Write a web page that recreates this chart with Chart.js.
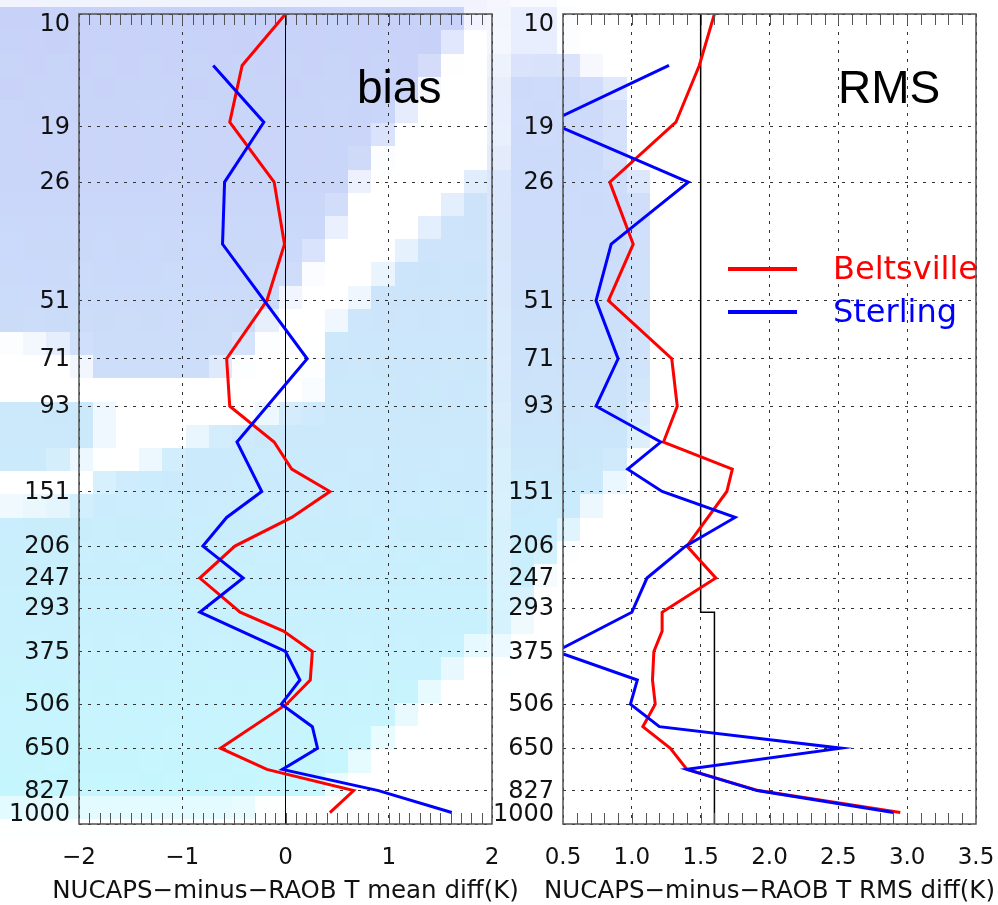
<!DOCTYPE html>
<html><head><meta charset="utf-8">
<script src="https://cdn.jsdelivr.net/npm/chart.js@4.4.1/dist/chart.umd.min.js"></script>
<style>
html,body{margin:0;padding:0;background:#fff;width:998px;height:905px;overflow:hidden;position:relative;}
#bg{position:absolute;left:0;top:-16px;width:998px;height:928px;image-rendering:pixelated;}
#c1{position:absolute;left:0;top:0;}
#c2{position:absolute;left:480px;top:0;}
</style></head><body>
<canvas id="bg" width="43" height="40"></canvas>
<canvas id="c1" width="540" height="905"></canvas>
<canvas id="c2" width="518" height="905"></canvas>
<script>
// ---- data ----
const levels = [10, 13.4, 18.5, 26, 37, 51, 71, 93, 114, 133, 151, 175, 206, 247, 300, 334, 375, 441, 506, 575, 650, 733, 827, 937];
const beltsvilleBias = [0.0, -0.42, -0.54, -0.11, -0.01, -0.18, -0.57, -0.54, -0.11, 0.06, 0.43, 0.06, -0.49, -0.83, -0.44, -0.02, 0.26, 0.24, 0.01, null, -0.63, -0.18, 0.66, 0.43];
const sterlingBias   = [null, -0.70, -0.21, -0.59, -0.61, null, 0.21, null, -0.47, null, -0.23, -0.57, -0.80, -0.41, -0.83, null, 0.0, 0.14, -0.04, 0.26, 0.31, -0.03, 0.90, 1.61];
const beltsvilleRms  = [1.60, 1.49, 1.32, 0.84, 1.01, 0.83, 1.29, 1.33, 1.23, 1.73, 1.69, null, 1.40, 1.61, 1.22, 1.22, 1.16, 1.15, 1.17, 1.08, 1.28, 1.40, 1.92, 2.95];
const sterlingRms    = [null, 1.27, 0.40, 1.41, 0.85, 0.74, 0.90, 0.74, 1.21, 0.97, 1.22, 1.75, 1.39, 1.11, 1.00, null, 0.45, 1.04, 0.99, 1.20, 2.52, 1.40, 1.91, 2.90];
const zeroLevels = [10, 1000];
const zeroBias = [0, 0];
const reqLevels = [10, 300, 300, 1000];
const reqRms = [1.5, 1.5, 1.6, 1.6];
const pressureTicks = [10, 19, 26, 51, 71, 93, 151, 206, 247, 293, 375, 506, 650, 827, 1000];
const biasTicks = [-2, -1, 0, 1, 2];
const rmsTicks = [0.5, 1.0, 1.5, 2.0, 2.5, 3.0, 3.5];

// ---- decorative background (pixelated blue field behind the panels) ----
(function drawBackground(){
  const cv = document.getElementById('bg');
  const ctx = cv.getContext('2d');
  ctx.fillStyle = '#ffffff'; ctx.fillRect(0,0,cv.width,cv.height);
  ctx.setTransform(cv.width/998, 0, 0, cv.height/928, 0, 16*cv.height/928);
  function poly(pts, fill){ ctx.beginPath(); pts.forEach(([x,y],i)=> i?ctx.lineTo(x,y):ctx.moveTo(x,y)); ctx.closePath(); ctx.fillStyle=fill; ctx.fill(); }
  function vgrad(stops){ const g=ctx.createLinearGradient(0,0,0,905); stops.forEach(([o,c])=>g.addColorStop(o,c)); return g; }
  const lav = vgrad([[0,'#c8d2f9'],[0.2,'#cad6f9'],[0.4,'#ccdefa'],[1,'#ccdefa']]);
  poly([[0,0],[500,0],[500,10],[470,14],[455,40],[440,60],[415,100],[395,125],[370,160],[350,190],[335,230],[310,265],[290,290],[265,320],[255,345],[225,365],[210,378],[95,378],[75,350],[40,335],[0,330]], lav);
  const low = vgrad([[0,'#cddcfa'],[0.2,'#cde2fa'],[0.45,'#cce8fb'],[0.65,'#c9f0fd'],[0.9,'#c6f7fe'],[1,'#c6f7fe']]);
  poly([[500,160],[485,172],[463,195],[440,218],[417,240],[395,265],[370,290],[347,312],[325,335],[322,400],[280,405],[255,425],[207,430],[185,448],[163,452],[140,470],[95,478],[90,497],[60,505],[0,510],[0,800],[320,797],[347,773],[370,750],[393,727],[417,705],[440,682],[463,658],[480,640],[500,635]], low);
  poly([[0,403],[100,403],[100,450],[50,470],[0,472]], low);
  poly([[0,797],[250,797],[250,820],[0,820]], '#e2fafe');
  // right panel
  poly([[500,0],[560,0],[560,57],[500,57]], '#e8eefd');
  const rg = vgrad([[0,'#cfd9fa'],[0.25,'#ccdcfa'],[0.45,'#cce4fa'],[0.6,'#c9eefc'],[1,'#c9eefc']]);
  poly([[500,57],[578,57],[600,80],[623,80],[623,173],[648,173],[648,380],[640,450],[625,452],[620,475],[600,497],[578,520],[560,545],[540,570],[520,615],[500,660]], rg);
})();

function pts(lv, vals){ return lv.map((p,i)=>({x: vals[i], y: p})); }
const FONT = '"DejaVu Sans", sans-serif';

const decoPlugin = {
  id: 'deco',
  afterDraw(chart, args, opts) {
    const {ctx, chartArea: a} = chart;
    const xs = chart.scales.x, ys = chart.scales.y;
    ctx.save();
    // minor ticks top & bottom, every 0.1
    ctx.strokeStyle = '#555'; ctx.lineWidth = 1;
    const n = Math.round((xs.max - xs.min) / 0.1);
    ctx.beginPath();
    for (let i = 1; i < n; i++) {
      const v = xs.min + i * 0.1;
      const px = Math.round(xs.getPixelForValue(v)) + 0.5;
      ctx.moveTo(px, a.top); ctx.lineTo(px, a.top + 11);
      ctx.moveTo(px, a.bottom); ctx.lineTo(px, a.bottom - 11);
    }
    ctx.stroke();
    // frame
    ctx.lineWidth = 1.5; ctx.strokeStyle = '#505050';
    ctx.strokeRect(a.left, a.top, a.right - a.left, a.bottom - a.top);
    // y tick labels
    ctx.font = '24px ' + FONT; ctx.fillStyle = '#111'; ctx.textAlign = 'right'; ctx.textBaseline = 'middle';
    pressureTicks.forEach((p, i) => {
      let y = ys.getPixelForValue(p);
      if (i === 0) y += 10;
      if (i === pressureTicks.length - 1) y -= 10;
      ctx.fillText(String(p), a.left - 9, y + 1);
    });
    // x-axis title
    ctx.font = '24.5px ' + FONT; ctx.textAlign = 'center'; ctx.textBaseline = 'alphabetic'; ctx.fillStyle = '#111';
    ctx.fillText(opts.xTitle, (a.left + a.right) / 2, a.bottom + 74);
    // panel label
    ctx.font = '46px "Liberation Sans", Arial, sans-serif'; ctx.textAlign = 'left'; ctx.fillStyle = '#000';
    ctx.fillText(opts.label, a.left + opts.labelDx, a.top + 89);
    // legend
    if (opts.legend) {
      let k = 0;
      chart.data.datasets.forEach(ds => {
        if (!ds.label) return;
        const y = 269 + k * 43;
        ctx.strokeStyle = ds.borderColor; ctx.lineWidth = 4;
        ctx.beginPath(); ctx.moveTo(a.left + 165, y); ctx.lineTo(a.left + 234, y); ctx.stroke();
        ctx.font = '32px ' + FONT; ctx.fillStyle = ds.borderColor;
        ctx.fillText(ds.label, a.left + 270, y + 10);
        k++;
      });
    }
    ctx.restore();
  }
};

function makeOptions(xmin, xmax, xticks, fmt, padRight, yWidth, deco) {
  return {
    responsive: false,
    animation: false,
    events: [],
    layout: { padding: { top: 14, right: padRight, left: 0, bottom: 0 } },
    plugins: { legend: { display: false }, tooltip: { enabled: false }, deco: deco },
    elements: { point: { radius: 0 }, line: { tension: 0 } },
    scales: {
      x: {
        type: 'linear', min: xmin, max: xmax,
        afterBuildTicks: s => { s.ticks = xticks.map(v => ({ value: v })); },
        afterFit: s => { s.height = 81; },
        ticks: { font: { family: FONT, size: 23 }, color: '#111', padding: 0, maxRotation: 0, autoSkip: false, callback: fmt },
        grid: { color: '#333', lineWidth: 1, drawTicks: true, tickLength: 20, tickColor: 'rgba(0,0,0,0)' },
        border: { display: false, dash: [3, 6] },
        title: { display: false }
      },
      y: {
        type: 'logarithmic', min: 10, max: 1000, reverse: true,
        afterBuildTicks: s => { s.ticks = pressureTicks.map(v => ({ value: v })); },
        afterFit: s => { s.width = yWidth; },
        ticks: { display: false },
        grid: { color: '#333', lineWidth: 1, drawTicks: false },
        border: { display: false, dash: [3, 6] }
      }
    }
  };
}

const minusFmt = v => (v < 0 ? '\u2212' + Math.abs(v) : String(v));
const oneDec = v => Number(v).toFixed(1);

new Chart(document.getElementById('c1'), {
  type: 'line',
  data: { datasets: [
    { data: pts(levels, sterlingBias), borderColor: '#0000ff', borderWidth: 3, spanGaps: true, clip: 0, order: 1 },
    { data: pts(levels, beltsvilleBias), borderColor: '#ff0000', borderWidth: 3, spanGaps: true, clip: 0, order: 2 },
    { data: pts(zeroLevels, zeroBias), borderColor: '#000000', borderWidth: 1, order: 3 }
  ]},
  options: makeOptions(-2, 2, biasTicks, minusFmt, 48, 79,
    { label: 'bias', labelDx: 278, legend: false, xTitle: 'NUCAPS\u2212minus\u2212RAOB T mean diff(K)' }),
  plugins: [decoPlugin]
});

new Chart(document.getElementById('c2'), {
  type: 'line',
  data: { datasets: [
    { label: 'Beltsville', data: pts(levels, beltsvilleRms), borderColor: '#ff0000', borderWidth: 3, spanGaps: true, clip: 0, order: 2 },
    { label: 'Sterling', data: pts(levels, sterlingRms), borderColor: '#0000ff', borderWidth: 3, spanGaps: true, clip: 0, order: 1 },
    { data: pts(reqLevels, reqRms), borderColor: '#000000', borderWidth: 1.5, order: 3 }
  ]},
  options: makeOptions(0.5, 3.5, rmsTicks, oneDec, 22, 83,
    { label: 'RMS', labelDx: 275, legend: true, xTitle: 'NUCAPS\u2212minus\u2212RAOB T RMS diff(K)' }),
  plugins: [decoPlugin]
});
</script>
</body></html>
